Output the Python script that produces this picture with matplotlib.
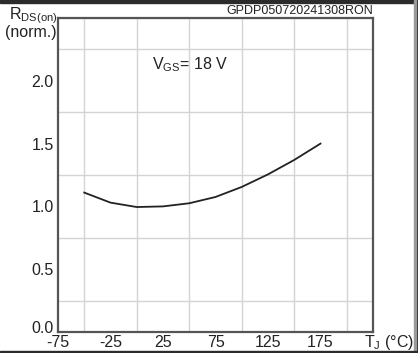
import matplotlib
matplotlib.use('Agg')
import matplotlib.pyplot as plt
from matplotlib.patches import Rectangle
import matplotlib.transforms as mtransforms
import numpy as np

plt.rcParams['font.family'] = ['Liberation Sans', 'DejaVu Sans']
plt.rcParams['mathtext.fontset'] = 'custom'
plt.rcParams['mathtext.rm'] = 'Liberation Sans'
plt.rcParams['mathtext.it'] = 'Liberation Sans'

# data
tj = [-50, -25, 0, 25, 50, 75, 100, 125, 150, 175]
rds = [1.11, 1.03, 0.995, 1.0, 1.025, 1.075, 1.155, 1.255, 1.37, 1.5]
xticks = [-75, -25, 25, 75, 125, 175]
yticks = [0.0, 0.5, 1.0, 1.5, 2.0]

W, H = 418, 353
fig = plt.figure(figsize=(W / 100, H / 100), dpi=100, facecolor='w')
ax = fig.add_axes([58 / W, 1 - 332 / H, (373 - 58) / W, (332 - 18) / H])

ax.plot(tj, rds, color='#222222', lw=1.3)

ax.set_xlim(-75, 225)
ax.set_ylim(0, 2.5)
ax.set_xticks(xticks)
ax.set_xticklabels([str(v) for v in xticks])
ax.set_yticks(yticks)
ax.set_yticklabels(['%.1f' % v for v in yticks])
ax.set_xticks(np.arange(-75, 226, 25), minor=True)
ax.set_yticks(np.arange(0, 2.51, 0.25), minor=True)
ax.grid(which='minor', color='#d4d4d4', lw=1.0)
ax.tick_params(which='both', length=0, labelsize=11.5, colors='#222222')
ax.tick_params(axis='y', pad=3)
ax.tick_params(axis='x', pad=2)
for s in ax.spines.values():
    s.set_color('#555555')
    s.set_linewidth(1.6)
ax.set_axisbelow(True)

# lift the 0.0 label a little, as in the original
fig.canvas.draw()
lab0 = ax.get_yticklabels()[0]
lab0.set_transform(lab0.get_transform() +
                   mtransforms.ScaledTranslation(0, 5 / 100, fig.dpi_scale_trans))

ax.text(1.0, 1.003, 'GPDP050720241308RON', transform=ax.transAxes,
        ha='right', va='bottom', fontsize=9, color='#222222')
ax.text(15, 2.13, r'V$_{\mathrm{GS}}$= 18 V', ha='left', va='center',
        fontsize=11.5, color='#222222')

fig.text(57 / W, 1 - 19 / H, r'R$_{\mathrm{DS(on)}}$', ha='right', va='baseline',
         fontsize=11.5, color='#222222')
fig.text(57 / W, 1 - 37 / H, '(norm.)', ha='right', va='baseline',
         fontsize=11.5, color='#222222')
fig.text(364 / W, 1 - 347 / H, r'T$_{\mathrm{J}}$ (°C)', ha='left', va='baseline',
         fontsize=11.5, color='#222222')

# dark screenshot border
fig.patches.append(Rectangle((0, 1 - 3 / H), 1, 3 / H, transform=fig.transFigure,
                             color='#2b2b2b', zorder=10))
fig.patches.append(Rectangle((416 / W, 0), 2 / W, 1, transform=fig.transFigure,
                             color='#2b2b2b', zorder=10))
fig.patches.append(Rectangle((414 / W, 0), 2 / W, 1, transform=fig.transFigure,
                             color='#9a9a9a', zorder=10))
fig.patches.append(Rectangle((0, 0), 1, 2 / H, transform=fig.transFigure,
                             color='#2b2b2b', zorder=10))

fig.savefig('out.png', dpi=100, facecolor='w')
